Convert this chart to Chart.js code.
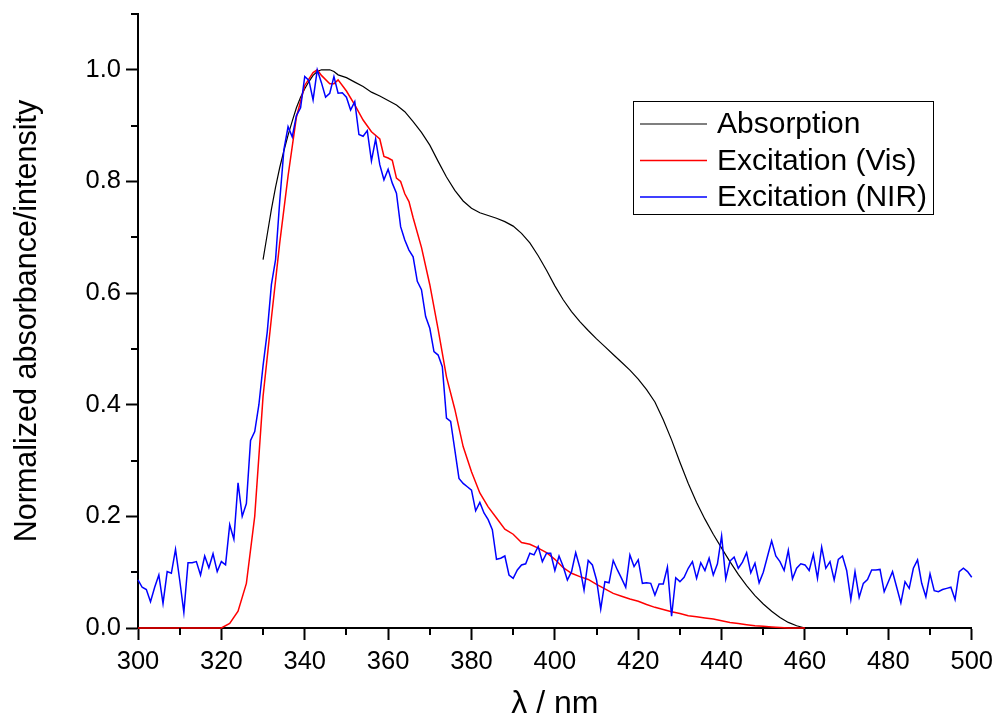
<!DOCTYPE html>
<html>
<head>
<meta charset="utf-8">
<script src="https://cdn.jsdelivr.net/npm/chart.js@4.4.1/dist/chart.umd.min.js"></script>
<style>
  html, body { margin: 0; padding: 0; background: #fff; }
  #wrap { width: 1000px; height: 723px; position: relative; }
</style>
</head>
<body>
<div id="wrap"><canvas id="spectraChart"></canvas></div>
<script>
// Absorption (black)
const absWavelength = [330, 331, 332, 333, 334, 335, 336, 337, 338, 339, 340, 341, 342, 343, 344, 345, 346, 347, 348,
    350, 352, 354, 356, 358, 360, 362, 364, 366, 368, 370, 372, 374, 376, 378, 380, 382, 384, 386, 388, 390,
    392, 394, 396, 398, 400, 402, 404, 406, 408, 410, 412, 414, 416, 418, 420, 422, 424, 426, 428, 430,
    432, 434, 436, 438, 440, 442, 444, 446, 448, 450, 452, 454, 456, 458, 460];
const absValues = [0.66, 0.705, 0.75, 0.79, 0.825, 0.855, 0.883, 0.908, 0.932, 0.951, 0.966, 0.979, 0.99, 0.997, 1.0, 1.0, 1.0, 0.997, 0.991,
    0.986, 0.978, 0.97, 0.96, 0.953, 0.945, 0.937, 0.925, 0.907, 0.888, 0.865, 0.836, 0.808, 0.784, 0.765, 0.752, 0.744, 0.739, 0.734, 0.728, 0.72,
    0.707, 0.69, 0.667, 0.641, 0.613, 0.588, 0.567, 0.549, 0.533, 0.518, 0.504, 0.49, 0.476, 0.462, 0.446, 0.427, 0.405, 0.373, 0.337, 0.297,
    0.259, 0.225, 0.195, 0.168, 0.143, 0.119, 0.096, 0.076, 0.058, 0.043, 0.03, 0.019, 0.01, 0.004, 0];

// Excitation (Vis), red
const visWavelength = [300, 305, 310, 315, 320, 322, 324, 326, 328, 330, 332, 334, 336, 338, 340, 342, 343, 344, 346, 347, 348,
    350, 352, 354, 356, 358, 359, 360, 361, 362, 363, 364, 365, 366, 368, 370, 372, 374, 376, 378, 380,
    382, 384, 386, 388, 390, 392, 394, 396, 398, 400, 402, 404, 406, 408, 410, 412, 414, 416, 418, 420,
    422, 424, 426, 428, 430, 432, 434, 436, 438, 440, 442, 444, 446, 448, 450, 452, 454, 456, 460];
const visValues = [0, 0, 0, 0, 0, 0.008, 0.03, 0.08, 0.2, 0.415, 0.555, 0.69, 0.81, 0.915, 0.972, 0.995, 1.0, 0.99, 0.975, 0.975, 0.982,
    0.962, 0.937, 0.91, 0.889, 0.876, 0.845, 0.842, 0.838, 0.806, 0.8, 0.778, 0.764, 0.735, 0.682, 0.615, 0.535, 0.45, 0.392, 0.325, 0.28,
    0.242, 0.217, 0.197, 0.177, 0.168, 0.153, 0.15, 0.143, 0.135, 0.123, 0.108, 0.098, 0.092, 0.087, 0.078, 0.07, 0.062, 0.057, 0.052, 0.048,
    0.042, 0.037, 0.033, 0.029, 0.026, 0.022, 0.02, 0.018, 0.016, 0.013, 0.01, 0.008, 0.006, 0.004, 0.003, 0.002, 0.001, 0, 0];

// Excitation (NIR), blue, one value per nm from 300 to 500
const nirWavelength = Array.from({ length: 201 }, (_, i) => 300 + i);
const nirValues = [
    0.086, 0.073, 0.069, 0.047, 0.073, 0.095, 0.044, 0.101, 0.098, 0.141,
    0.086, 0.028, 0.117, 0.117, 0.119, 0.095, 0.129, 0.108, 0.133, 0.101,
    0.119, 0.113, 0.185, 0.159, 0.260, 0.200, 0.223, 0.336, 0.352, 0.400,
    0.470, 0.530, 0.615, 0.660, 0.765, 0.857, 0.898, 0.880, 0.918, 0.932,
    0.988, 0.981, 0.946, 1.000, 0.977, 0.951, 0.958, 0.988, 0.958, 0.959,
    0.951, 0.928, 0.943, 0.884, 0.881, 0.891, 0.837, 0.876, 0.830, 0.803,
    0.822, 0.797, 0.779, 0.719, 0.695, 0.677, 0.665, 0.621, 0.606, 0.558,
    0.537, 0.495, 0.489, 0.468, 0.376, 0.370, 0.319, 0.268, 0.259, 0.253,
    0.247, 0.210, 0.225, 0.206, 0.194, 0.176, 0.123, 0.125, 0.129, 0.095,
    0.089, 0.104, 0.113, 0.115, 0.134, 0.131, 0.146, 0.119, 0.134, 0.134,
    0.103, 0.129, 0.110, 0.086, 0.101, 0.135, 0.108, 0.068, 0.121, 0.113,
    0.086, 0.034, 0.083, 0.081, 0.121, 0.104, 0.089, 0.073, 0.131, 0.110,
    0.122, 0.080, 0.081, 0.080, 0.059, 0.079, 0.079, 0.109, 0.021, 0.090,
    0.083, 0.091, 0.107, 0.119, 0.089, 0.117, 0.103, 0.125, 0.095, 0.115,
    0.165, 0.088, 0.120, 0.127, 0.107, 0.118, 0.135, 0.099, 0.116, 0.081,
    0.100, 0.128, 0.156, 0.129, 0.119, 0.103, 0.139, 0.088, 0.107, 0.115,
    0.113, 0.103, 0.132, 0.089, 0.145, 0.107, 0.119, 0.086, 0.123, 0.129,
    0.103, 0.051, 0.101, 0.055, 0.080, 0.087, 0.104, 0.104, 0.105, 0.065,
    0.083, 0.101, 0.073, 0.045, 0.083, 0.071, 0.107, 0.122, 0.080, 0.056,
    0.097, 0.067, 0.065, 0.069, 0.071, 0.073, 0.051, 0.101, 0.107, 0.101,
    0.091];

// labelled (major) ticks; the ticks in between are short unlabelled minors
const xTickLabels = [300, 320, 340, 360, 380, 400, 420, 440, 460, 480, 500];
const yTickLabels = [0.0, 0.2, 0.4, 0.6, 0.8, 1.0];

const FONT = '"Liberation Sans", Arial, sans-serif';

function toPoints(xs, ys) {
    return xs.map((x, i) => ({ x: x, y: ys[i] }));
}
function isMajorX(v) {
    return xTickLabels.includes(Math.round(v));
}
function isMajorY(v) {
    const r = Math.round(v * 10) / 10;
    return yTickLabels.some(t => Math.abs(t - r) < 1e-6);
}

// short minor ticks, same positions as the scale's own ticks
const minorTicks = {
    id: 'minorTicks',
    afterDraw(chart) {
        const { ctx, scales: { x, y } } = chart;
        ctx.save();
        ctx.strokeStyle = '#000';
        ctx.lineWidth = 2;
        x.ticks.forEach(t => {
            if (isMajorX(t.value)) return;
            const px = Math.round(x.getPixelForValue(t.value));
            ctx.beginPath();
            ctx.moveTo(px, x.top);
            ctx.lineTo(px, x.top + 7);
            ctx.stroke();
        });
        y.ticks.forEach(t => {
            if (isMajorY(t.value)) return;
            const py = Math.round(y.getPixelForValue(t.value));
            ctx.beginPath();
            ctx.moveTo(y.right, py);
            ctx.lineTo(y.right - 7, py);
            ctx.stroke();
        });
        ctx.restore();
    }
};

// legend drawn inside the plot, like the Origin box
const legendBox = {
    id: 'legendBox',
    afterDraw(chart) {
        const ctx = chart.ctx;
        ctx.save();
        ctx.fillStyle = '#fff';
        ctx.fillRect(633, 101, 300, 113);
        ctx.strokeStyle = '#000';
        ctx.lineWidth = 1;
        ctx.strokeRect(633.5, 101.5, 300, 113);
        ctx.font = '30px ' + FONT;
        ctx.textBaseline = 'middle';
        chart.data.datasets.forEach((ds, i) => {
            const y = 124 + i * 36.5;
            ctx.strokeStyle = ds.borderColor;
            ctx.lineWidth = ds.borderWidth;
            ctx.beginPath();
            ctx.moveTo(640, y);
            ctx.lineTo(707, y);
            ctx.stroke();
            ctx.fillStyle = '#000';
            ctx.fillText(ds.label, 717, y + 1);
        });
        ctx.restore();
    }
};

const ctx = document.getElementById('spectraChart').getContext('2d');
const spectraChart = new Chart(ctx, {
    type: 'line',
    data: {
        datasets: [{
            label: 'Absorption',
            data: toPoints(absWavelength, absValues),
            borderColor: '#000000',
            borderWidth: 1.2,
            clip: 3,
            order: 3
        }, {
            label: 'Excitation (Vis)',
            data: toPoints(visWavelength, visValues),
            borderColor: '#ff0000',
            borderWidth: 1.5,
            clip: 3,
            order: 2
        }, {
            label: 'Excitation (NIR)',
            data: toPoints(nirWavelength, nirValues),
            borderColor: '#0000ff',
            borderWidth: 1.5,
            clip: 3,
            order: 1
        }]
    },
    options: {
        responsive: true,
        maintainAspectRatio: false,
        animation: false,
        layout: { padding: { left: 0, right: 28, top: 14, bottom: 0 } },
        elements: {
            point: { radius: 0 },
            line: { tension: 0, fill: false }
        },
        plugins: {
            legend: { display: false },
            tooltip: { enabled: false }
        },
        scales: {
            x: {
                type: 'linear',
                min: 300,
                max: 500,
                afterFit: (scale) => { scale.height = 95; },
                border: { display: true, color: '#000', width: 2 },
                grid: {
                    drawOnChartArea: false,
                    drawTicks: true,
                    tickLength: 12,
                    tickWidth: 2,
                    tickColor: (c) => c.tick && isMajorX(c.tick.value) ? '#000' : 'rgba(0,0,0,0)'
                },
                ticks: {
                    stepSize: 10,
                    autoSkip: false,
                    maxRotation: 0,
                    padding: 7,
                    color: '#000',
                    font: { family: FONT, size: 25.5 },
                    callback: (v) => isMajorX(v) ? String(Math.round(v)) : ''
                },
                title: {
                    display: true,
                    text: 'λ / nm',
                    color: '#000',
                    font: { family: FONT, size: 32 },
                    padding: { top: 0, bottom: 0 }
                }
            },
            y: {
                min: 0,
                max: 1.1,
                afterFit: (scale) => {
                    scale.width = 138;
                    scale.paddingTop = 0;
                    scale.paddingBottom = 0;
                },
                border: { display: true, color: '#000', width: 2 },
                grid: {
                    drawOnChartArea: false,
                    drawTicks: true,
                    tickLength: 12,
                    tickWidth: 2,
                    tickColor: (c) => c.tick && isMajorY(c.tick.value) ? '#000' : 'rgba(0,0,0,0)'
                },
                ticks: {
                    stepSize: 0.1,
                    autoSkip: false,
                    padding: 5,
                    color: '#000',
                    font: { family: FONT, size: 25.5 },
                    callback: (v) => isMajorY(v) ? (Math.round(v * 10) / 10).toFixed(1) : ''
                },
                title: {
                    display: true,
                    text: 'Normalized absorbance/intensity',
                    color: '#000',
                    font: { family: FONT, size: 30.5 },
                    padding: { top: 9, bottom: 0 }
                }
            }
        }
    },
    plugins: [minorTicks, legendBox]
});
</script>
</body>
</html>
